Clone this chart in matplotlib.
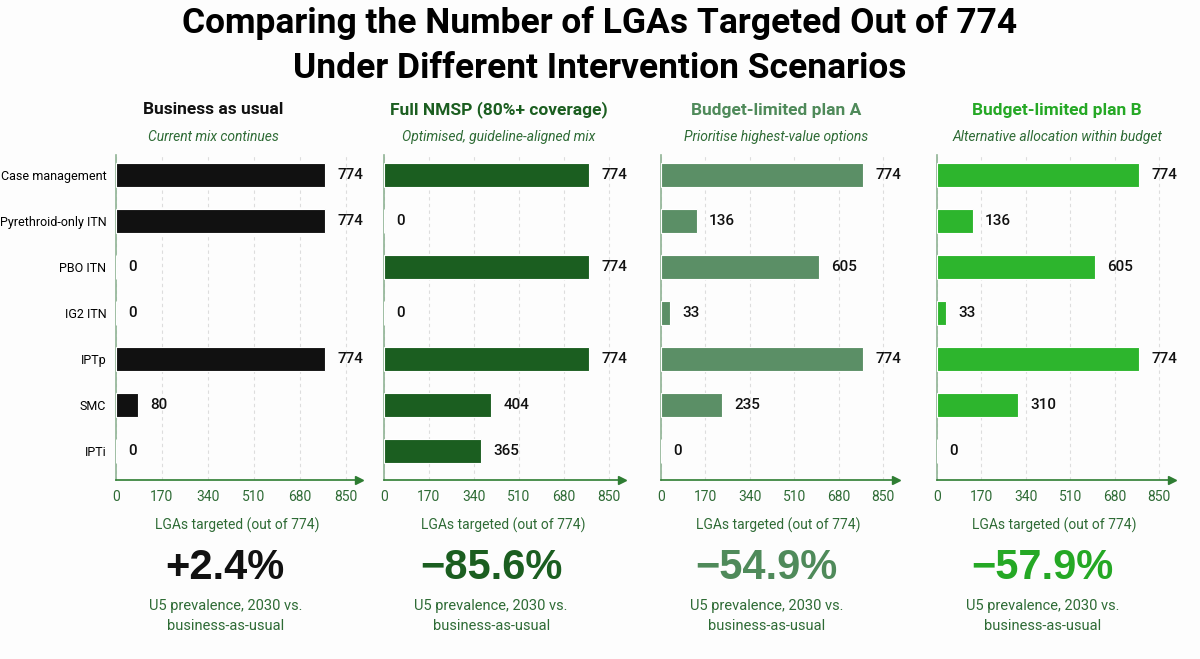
import matplotlib.pyplot as plt

# data
interventions = ['Case management', 'Pyrethroid-only ITN', 'PBO ITN', 'IG2 ITN', 'IPTp', 'SMC', 'IPTi']
bau = [774, 774, 0, 0, 774, 80, 0]
nmsp = [774, 0, 774, 0, 774, 404, 365]
plan_a = [774, 136, 605, 33, 774, 235, 0]
plan_b = [774, 136, 605, 33, 774, 310, 0]
scenario_titles = ['Business as usual', 'Full NMSP (80%+ coverage)', 'Budget-limited plan A', 'Budget-limited plan B']
scenario_subtitles = ['Current mix continues', 'Optimised, guideline-aligned mix',
                      'Prioritise highest-value options', 'Alternative allocation within budget']
prevalence_change = ['+2.4%', '\u221285.6%', '\u221254.9%', '\u221257.9%']
xticks = [0, 170, 340, 510, 680, 850]

bar_colors = ['#111111', '#1b5e20', '#5b8f66', '#2db52d']
title_colors = ['#111111', '#1b5e20', '#4f8a5a', '#25a825']
text_green = '#2e6b35'

NARROW = ['Roboto', 'DejaVu Sans']
SANS = ['Liberation Sans', 'DejaVu Sans']
plt.rcParams['font.family'] = SANS

fig = plt.figure(figsize=(12, 6.59), dpi=100)
fig.patch.set_facecolor('#fdfdfd')

W, H = 1200, 659
fig.text(0.5, 1 - 23 / H, 'Comparing the Number of LGAs Targeted Out of 774',
         ha='center', va='center', fontsize=25.5, fontweight='bold', family=NARROW)
fig.text(0.5, 1 - 68 / H, 'Under Different Intervention Scenarios',
         ha='center', va='center', fontsize=25.5, fontweight='bold', family=NARROW)

lefts = [116, 384, 661, 937]
widths = [243, 238, 235, 235]
title_x = [213, 499, 776, 1057]
series = [bau, nmsp, plan_a, plan_b]

for i, vals in enumerate(series):
    ax = fig.add_axes([lefts[i] / W, 1 - 480 / H, widths[i] / W, 325 / H])
    ax.set_facecolor('none')
    pos = range(len(interventions))
    ax.barh(pos, vals, height=0.52, color=bar_colors[i], edgecolor='white', linewidth=0.8, zorder=3)
    ax.set_xlim(0, 900)
    ax.set_ylim(6.63, -0.43)
    ax.set_xticks(xticks)
    ax.tick_params(axis='x', colors=text_green, labelsize=10, length=0, pad=7)
    for lab in ax.get_xticklabels():
        lab.set_family(NARROW)
    ax.set_yticks(list(pos))
    if i == 0:
        ax.set_yticklabels(interventions, family=NARROW, fontsize=9)
        ax.tick_params(axis='y', length=0, pad=7)
    else:
        ax.set_yticklabels([])
        ax.tick_params(axis='y', length=0)
    ax.grid(axis='x', color='#dddddd', linestyle=(0, (3, 3)), linewidth=0.8, zorder=0)
    for s in ['top', 'right']:
        ax.spines[s].set_visible(False)
    ax.spines['left'].set_color('#8fb394')
    ax.spines['left'].set_linewidth(1.2)
    ax.spines['bottom'].set_color('#2e7d32')
    ax.spines['bottom'].set_linewidth(1.2)
    ax.plot(1, 0, marker='>', color='#2e7d32', markersize=6, transform=ax.transAxes, clip_on=False)
    for p, v in zip(pos, vals):
        ax.annotate(str(v), (v, p), xytext=(9, 0), textcoords='offset points',
                    va='center', ha='left', fontsize=11, fontweight='medium', family=NARROW, color='#111111')
    ax.set_xlabel('LGAs targeted (out of 774)', color=text_green, fontsize=10, labelpad=10, family=NARROW)

    cx = title_x[i] / W
    fig.text(cx, 1 - 110 / H, scenario_titles[i], ha='center', va='center',
             fontsize=12.5, fontweight='bold', color=title_colors[i], family=NARROW)
    fig.text(cx, 1 - 137 / H, scenario_subtitles[i], ha='center', va='center',
             fontsize=10, style='italic', color=text_green, family=NARROW)
    mx = (lefts[i] + 0.45 * widths[i]) / W
    fig.text(mx, 1 - 568 / H, prevalence_change[i], ha='center', va='center',
             fontsize=30, fontweight='bold', color=title_colors[i])
    fig.text(mx, 1 - 616 / H, 'U5 prevalence, 2030 vs.\nbusiness-as-usual', ha='center', va='center',
             fontsize=10.5, color=text_green, linespacing=1.5, family=NARROW)

fig.savefig('out.png', dpi=100, facecolor=fig.get_facecolor())
